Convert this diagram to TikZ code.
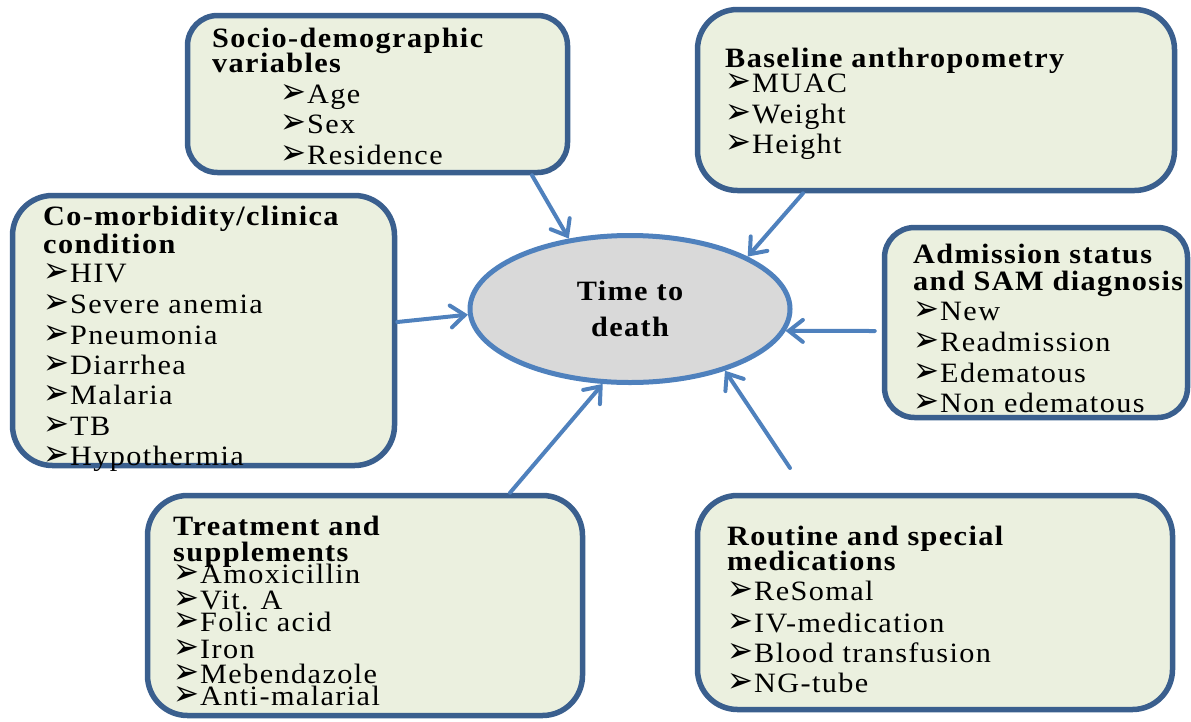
\documentclass[tikz,border=0pt]{standalone}
\usepackage{graphicx}
\usepackage{fontspec}
\setmainfont{Liberation Serif}[FakeStretch=1.08, LetterSpace=5]
\newfontfamily\dingfont{DejaVu Sans}
\usetikzlibrary{arrows.meta,shapes.geometric}
\definecolor{boxborder}{HTML}{3A5F8E}
\definecolor{boxfill}{HTML}{EBF0DF}
\definecolor{accent}{HTML}{4F81BD}
\definecolor{ellfill}{HTML}{D9D9D9}
\newcommand\bul{\makebox[27pt][l]{\scalebox{1}[1.15]{\dingfont\fontsize{31}{31}\selectfont ➢}}}
\begin{document}
\begin{tikzpicture}[x=1pt,y=-1pt,
  font=\fontsize{28}{30}\selectfont,
  box/.style={draw=boxborder, fill=boxfill, line width=5.5pt, rounded corners=35pt, inner sep=0pt},
  txt/.style={anchor=base west, inner sep=0pt},
  hd/.style={anchor=base west, inner sep=0pt, font=\fontsize{28}{30}\selectfont\bfseries},
  conn/.style={draw=accent, line width=4pt, line cap=round, -{Straight Barb[length=14pt,width=22pt,line cap=round]}}]
\useasboundingbox (0,0) rectangle (1191,721);

% boxes
\node[box, minimum width=380, minimum height=157, rounded corners=30pt] (socio) at (377.5,94) {};
\node[box, minimum width=477, minimum height=181, rounded corners=40pt] (base) at (936,100) {};
\node[box, minimum width=382, minimum height=270, rounded corners=40pt] (comorb) at (203.5,330.5) {};
\node[box, minimum width=303, minimum height=190, rounded corners=30pt] (adm) at (1036,322.5) {};
\node[box, minimum width=435, minimum height=220, rounded corners=40pt] (treat) at (365,605.5) {};
\node[box, minimum width=475, minimum height=214, rounded corners=40pt] (rout) at (935,602.5) {};

% ellipse
\node[ellipse, draw=accent, fill=ellfill, line width=5pt, minimum width=320, minimum height=147, inner sep=0pt,
  align=center, font=\fontsize{28}{36}\selectfont\bfseries] (tod) at (630,309) {Time to\\death};

% socio text
\node[hd] (s1) at (212,47) {Socio-demographic};
\node[hd] (s2) at (212,72) {variables};
\node[txt] (s3) at (280,103) {\bul Age};
\node[txt] (s4) at (280,133) {\bul Sex};
\node[txt] (s5) at (280,164) {\bul Residence};

% baseline text
\node[hd] (b1) at (725,67) {Baseline anthropometry};
\node[txt] (b2) at (725,92) {\bul MUAC};
\node[txt] (b3) at (725,123) {\bul Weight};
\node[txt] (b4) at (725,153) {\bul Height};

% comorbidity text
\node[hd] (c1) at (43,225) {Co-morbidity/clinica};
\node[hd] (c2) at (43,253) {condition};
\node[txt] (c3) at (43,282) {\bul HIV};
\node[txt] (c4) at (43,313) {\bul Severe anemia};
\node[txt] (c5) at (43,344) {\bul Pneumonia};
\node[txt] (c6) at (43,374) {\bul Diarrhea};
\node[txt] (c7) at (43,404) {\bul Malaria};
\node[txt] (c8) at (43,435) {\bul TB};
\node[txt] (c9) at (43,465) {\bul Hypothermia};

% admission text
\node[hd] (a1) at (913,263) {Admission status};
\node[hd] (a2) at (913,290) {and SAM diagnosis};
\node[txt] (a3) at (913,320) {\bul New};
\node[txt] (a4) at (913,351) {\bul Readmission};
\node[txt] (a5) at (913,382) {\bul Edematous};
\node[txt] (a6) at (913,412) {\bul Non edematous};

% treatment text
\node[hd] (t1) at (173,535) {Treatment and};
\node[hd] (t2) at (173,561) {supplements};
\node[txt] (t3) at (173,583) {\bul Amoxicillin};
\node[txt] (t4) at (173,609) {\bul Vit. A};
\node[txt] (t5) at (173,631) {\bul Folic acid};
\node[txt] (t6) at (173,658) {\bul Iron};
\node[txt] (t7) at (173,683) {\bul Mebendazole};
\node[txt] (t8) at (173,705) {\bul Anti-malarial};

% routine text
\node[hd] (r1) at (727,545) {Routine and special};
\node[hd] (r2) at (727,570) {medications};
\node[txt] (r3) at (727,600) {\bul ReSomal};
\node[txt] (r4) at (727,632) {\bul IV-medication};
\node[txt] (r5) at (727,662) {\bul Blood transfusion};
\node[txt] (r6) at (727,692) {\bul NG-tube};

% connectors
\coordinate (free) at (790,468);
\draw[conn] ([xshift=154.5pt]socio.south) -- (tod.131);
\draw[conn] ([xshift=-133pt]base.south) -- (tod.24);
\draw[conn] ([yshift=8.5pt]comorb.east) -- (tod.182);
\draw[conn] ([xshift=-7pt,yshift=-8.5pt]adm.west) -- (tod.352);
\draw[conn] ([xshift=145pt]treat.north) -- (tod.250);
\draw[conn] (free) -- (tod.327);
\end{tikzpicture}
\end{document}
